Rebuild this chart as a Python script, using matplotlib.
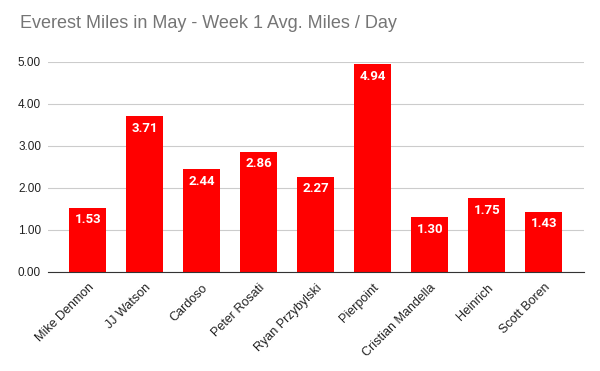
import matplotlib.pyplot as plt

names = ["Mike Denmon", "JJ Watson", "Cardoso", "Peter Rosati", "Ryan Przybylski",
         "Pierpoint", "Cristian Mandella", "Heinrich", "Scott Boren"]
miles = [1.53, 3.71, 2.44, 2.86, 2.27, 4.94, 1.30, 1.75, 1.43]
yticks = [0, 1, 2, 3, 4, 5]

plt.rcParams["font.family"] = ["Roboto", "DejaVu Sans"]

fig = plt.figure(figsize=(6, 3.71), dpi=100)
ax = fig.add_axes([0.08, 0.267, 0.893, 0.566])

x = list(range(len(names)))
bars = ax.bar(x, miles, width=0.65, color="#ff0000", zorder=3)

for xi, v in zip(x, miles):
    ax.text(xi, v - 0.13, f"{v:.2f}", ha="center", va="top",
            color="white", fontsize=9.5, fontweight="bold", zorder=4)

ax.set_xlim(-0.7, 8.7)
ax.set_ylim(0, 5)
ax.set_yticks(yticks)
ax.set_yticklabels([f"{t:.2f}" for t in yticks], fontsize=8.5, color="#222222",
                   family=["Liberation Sans", "DejaVu Sans"])
ax.set_xticks(x)
ax.set_xticklabels(names, rotation=45, ha="right", rotation_mode="anchor",
                   fontsize=9, color="#222222", family=["Liberation Sans", "DejaVu Sans"])

ax.grid(axis="y", color="#cccccc", linewidth=0.8, zorder=0)
for s in ["top", "right", "left"]:
    ax.spines[s].set_visible(False)
ax.spines["bottom"].set_color("#333333")
ax.spines["bottom"].set_zorder(5)
ax.tick_params(axis="y", length=0, pad=5)
ax.tick_params(axis="x", length=0, pad=7)

fig.text(0.033, 0.937, "Everest Miles in May - Week 1 Avg. Miles / Day",
         fontsize=13, color="#757575", va="center", ha="left",
         family=["Liberation Sans", "DejaVu Sans"])

fig.savefig("out.png", dpi=100)
